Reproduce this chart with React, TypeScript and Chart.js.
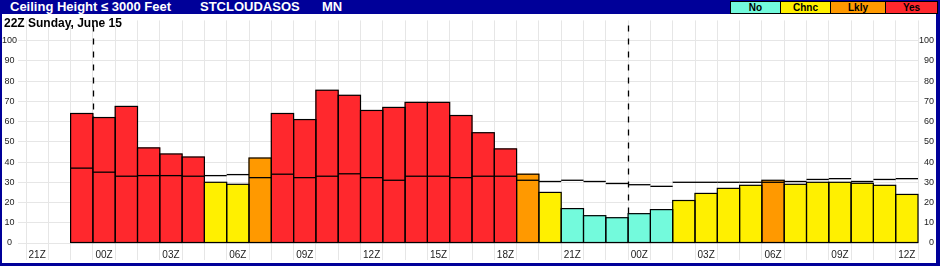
import React, { useEffect, useRef } from 'react';
import { Chart, registerables } from 'chart.js';

Chart.register(...registerables);

const FONT = '"Liberation Sans", Arial, Helvetica, sans-serif';

const hours = [
  '21Z', '22Z', '23Z',
  '00Z', '01Z', '02Z', '03Z', '04Z', '05Z', '06Z', '07Z', '08Z', '09Z', '10Z', '11Z',
  '12Z', '13Z', '14Z', '15Z', '16Z', '17Z', '18Z', '19Z', '20Z', '21Z', '22Z', '23Z',
  '00Z', '01Z', '02Z', '03Z', '04Z', '05Z', '06Z', '07Z', '08Z', '09Z', '10Z', '11Z', '12Z',
];

const probability: (number | null)[] = [
  null, null, 64,
  62, 67.5, 47, 44, 42.5, 30, 29, 42, 64, 61, 75.5, 73,
  65.5, 67, 69.5, 69.5, 63, 54.5, 46.5, 34, 25, 17, 13.5, 12.5,
  14.5, 16.5, 21, 24.5, 27, 28.5, 31, 29, 30, 30, 29.5, 28.5, 24,
];

const reference: (number | null)[] = [
  null, null, 37,
  35, 33, 33.3, 33.3, 33, 33.3, 33.8, 32.3, 34, 32.3, 33, 34.2,
  32.3, 31, 33, 33, 32.3, 33, 33, 31, 30.4, 31, 30.4, 29.4,
  28.8, 28, 30, 30, 30, 30, 30, 30.4, 31.4, 31.8, 30.4, 31.4, 31.8,
];

const risk: (string | null)[] = [
  null, null, 'Yes',
  'Yes', 'Yes', 'Yes', 'Yes', 'Yes', 'Chnc', 'Chnc', 'Lkly', 'Yes', 'Yes', 'Yes', 'Yes',
  'Yes', 'Yes', 'Yes', 'Yes', 'Yes', 'Yes', 'Yes', 'Lkly', 'Chnc', 'No', 'No', 'No',
  'No', 'No', 'Chnc', 'Chnc', 'Chnc', 'Chnc', 'Lkly', 'Chnc', 'Chnc', 'Chnc', 'Chnc', 'Chnc', 'Chnc',
];

const legendLabels = ['No', 'Chnc', 'Lkly', 'Yes'];
const legendColors = ['#73FADC', '#FFF000', '#FF9900', '#FF282D'];

const yTicks = [0, 10, 20, 30, 40, 50, 60, 70, 80, 90, 100];

const colorFor = (r: string | null) =>
  r ? legendColors[legendLabels.indexOf(r)] : 'rgba(0,0,0,0)';

const overlayPlugin = {
  id: 'overlay',
  beforeDatasetsDraw(chart: any) {
    const { ctx, chartArea, scales } = chart;
    const x = scales.x;
    const y = scales.y;
    ctx.save();
    ctx.strokeStyle = '#000';
    ctx.lineWidth = 1.3;
    ctx.setLineDash([6, 7]);
    hours.forEach((h, i) => {
      if (h === '00Z' && i > 0) {
        const px = Math.round((x.getPixelForValue(i - 1) + x.getPixelForValue(i)) / 2) + 0.5;
        ctx.beginPath();
        ctx.moveTo(px, chartArea.top + 5);
        ctx.lineTo(px, y.getPixelForValue(0));
        ctx.stroke();
      }
    });
    ctx.restore();
  },
  afterDatasetsDraw(chart: any) {
    const { ctx, scales } = chart;
    const x = scales.x;
    const y = scales.y;
    const meta = chart.getDatasetMeta(0);
    ctx.save();
    ctx.setLineDash([]);
    ctx.strokeStyle = '#000';
    ctx.lineWidth = 1.2;
    meta.data.forEach((bar: any, i: number) => {
      if (probability[i] == null) return;
      const p = bar.getProps(['x', 'y', 'base', 'width'], true);
      ctx.strokeRect(p.x - p.width / 2, p.y, p.width, p.base - p.y);
    });
    ctx.lineWidth = 1.3;
    const catW = x.getPixelForValue(1) - x.getPixelForValue(0);
    reference.forEach((v, i) => {
      if (v == null) return;
      const cx = x.getPixelForValue(i);
      const py = y.getPixelForValue(v);
      ctx.beginPath();
      ctx.moveTo(cx - catW / 2, py);
      ctx.lineTo(cx + catW / 2, py);
      ctx.stroke();
    });
    ctx.restore();
  },
};

export default function App() {
  const canvasRef = useRef<HTMLCanvasElement>(null);

  useEffect(() => {
    document.body.style.margin = '0';
    const setTicks = (s: any) => {
      s.ticks = yTicks.map((v) => ({ value: v }));
    };
    const chart = new Chart(canvasRef.current as HTMLCanvasElement, {
      type: 'bar',
      data: {
        labels: hours,
        datasets: [
          {
            data: probability as any,
            backgroundColor: risk.map(colorFor),
            borderWidth: 0,
            barPercentage: 1,
            categoryPercentage: 1,
          },
        ],
      },
      options: {
        responsive: false,
        animation: false,
        devicePixelRatio: 1,
        layout: { padding: { top: 1, left: 0, right: 0, bottom: 0 } },
        plugins: {
          legend: { display: false },
          tooltip: { enabled: false },
          title: { display: false },
        },
        scales: {
          x: {
            offset: true,
            grid: { offset: true, color: '#e6e6e6', tickColor: '#e6e6e6', tickLength: 17, lineWidth: 1 },
            border: { display: false },
            ticks: {
              autoSkip: false,
              maxRotation: 0,
              minRotation: 0,
              padding: -11,
              color: '#222',
              font: { size: 10, family: FONT },
              callback: (_v: any, i: number) => (i % 3 === 0 ? hours[i] : ''),
            },
            afterFit: (s: any) => {
              s.height = 20;
            },
          },
          y: {
            position: 'left',
            min: 0,
            max: 110,
            afterBuildTicks: setTicks,
            grid: { color: '#e6e6e6', tickColor: '#e6e6e6', tickLength: 8 },
            border: { display: false },
            ticks: {
              crossAlign: 'center',
              padding: 1,
              color: '#222',
              font: { size: 9, family: FONT },
            },
            afterFit: (s: any) => {
              s.width = 24;
            },
          },
          y2: {
            position: 'right',
            min: 0,
            max: 110,
            afterBuildTicks: setTicks,
            grid: { display: false },
            border: { display: false },
            ticks: {
              crossAlign: 'far',
              padding: 0,
              color: '#222',
              font: { size: 9, family: FONT },
            },
            afterFit: (s: any) => {
              s.width = 16;
            },
          },
        },
      } as any,
      plugins: [overlayPlugin],
    });
    return () => chart.destroy();
  }, []);

  const boxes = [
    { left: 730, width: 51 },
    { left: 780, width: 51 },
    { left: 830, width: 56 },
    { left: 885, width: 53 },
  ];

  return (
    <div
      style={{
        position: 'relative',
        width: 940,
        height: 266,
        background: '#000099',
        fontFamily: FONT,
        overflow: 'hidden',
      }}
    >
      <span style={{ position: 'absolute', left: 10, top: -0.5, color: '#fff', fontWeight: 'bold', fontSize: 13, lineHeight: '13px', whiteSpace: 'nowrap' }}>
        Ceiling Height ≤ 3000 Feet
      </span>
      <span style={{ position: 'absolute', left: 200, top: -0.5, color: '#fff', fontWeight: 'bold', fontSize: 13, lineHeight: '13px', whiteSpace: 'nowrap' }}>
        STCLOUDASOS
      </span>
      <span style={{ position: 'absolute', left: 322, top: -0.5, color: '#fff', fontWeight: 'bold', fontSize: 13, lineHeight: '13px', whiteSpace: 'nowrap' }}>
        MN
      </span>
      {legendLabels.map((lab, i) => (
        <div
          key={lab}
          style={{
            position: 'absolute',
            left: boxes[i].left,
            top: 1,
            width: boxes[i].width,
            height: 13,
            boxSizing: 'border-box',
            border: '1px solid #000',
            background: legendColors[i],
            display: 'flex',
            alignItems: 'center',
            justifyContent: 'center',
            fontWeight: 'bold',
            fontSize: 10,
            lineHeight: '11px',
            color: '#000',
          }}
        >
          {lab}
        </div>
      ))}
      <div style={{ position: 'absolute', left: 2, top: 14, width: 934, height: 249, background: '#fff' }}>
        <canvas
          ref={canvasRef}
          width={932}
          height={249}
          style={{ position: 'absolute', left: 0, top: 0, width: 932, height: 249 }}
        />
        <span
          style={{
            position: 'absolute',
            left: 2,
            top: 2.5,
            fontWeight: 'bold',
            fontSize: 12,
            lineHeight: '12px',
            color: '#000',
            whiteSpace: 'nowrap',
          }}
        >
          22Z Sunday, June 15
        </span>
      </div>
    </div>
  );
}
